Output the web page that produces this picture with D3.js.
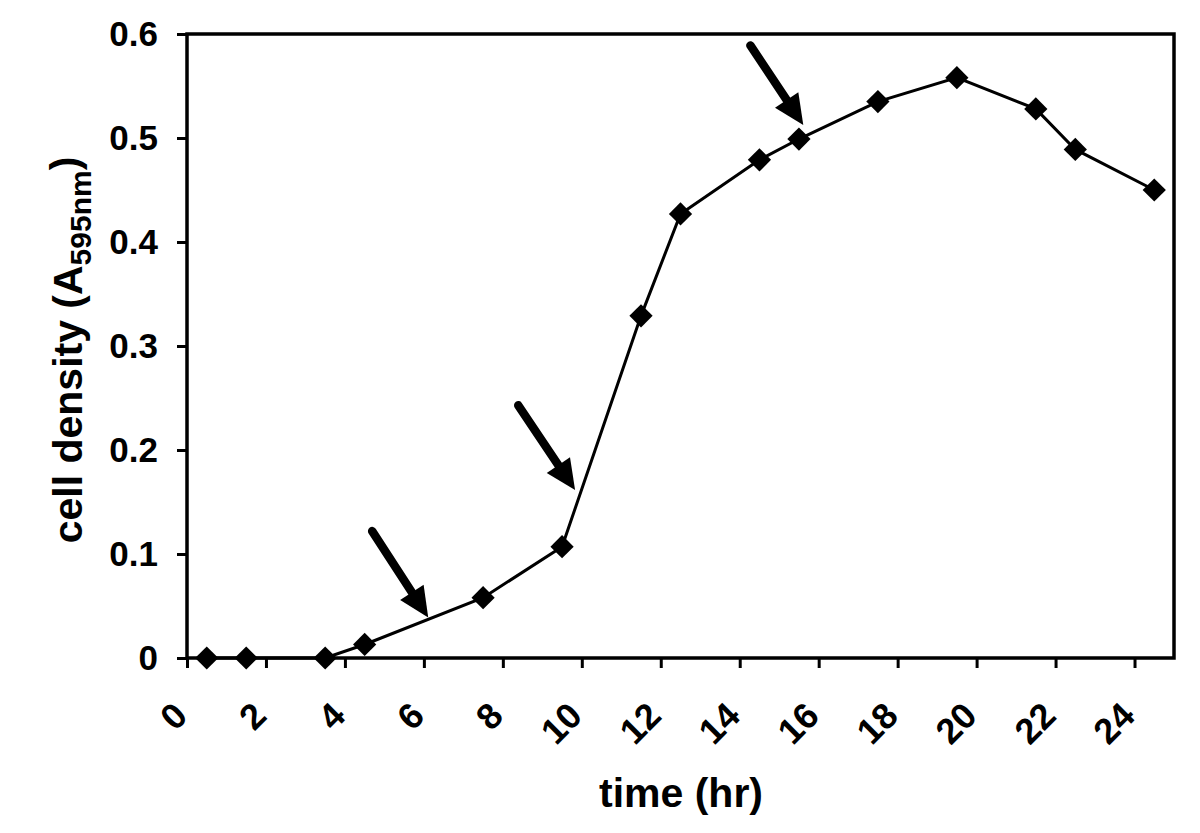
<!DOCTYPE html>
<meta charset="utf-8">
<style>
body { margin: 0; background: #fff; }
text { font-family: "Liberation Sans", Arial, sans-serif; font-weight: bold; }
.axis path, .axis line { stroke: #000; stroke-width: 3; }
.xlab { font-size: 36px; }
.ylab { font-size: 35px; }
</style>
<body>
<script src="https://d3js.org/d3.v7.min.js"></script>
<script>
// growth curve, time in hr vs A595
var hours   = [0.5, 1.5, 3.5, 4.5, 7.5, 9.5, 11.5, 12.5, 14.5, 15.5, 17.5, 19.5, 21.5, 22.5, 24.5];
var density = [0, 0, 0, 0.013, 0.058, 0.107, 0.329, 0.427, 0.479, 0.499, 0.535, 0.558, 0.528, 0.489, 0.45];
var xTicks = [0, 2, 4, 6, 8, 10, 12, 14, 16, 18, 20, 22, 24];
var yTicks = [0, 0.1, 0.2, 0.3, 0.4, 0.5, 0.6];
// arrows (tail -> tip), data units
var arrowTail = [[4.69, 0.122], [8.39, 0.243], [14.27, 0.589]];
var arrowTip  = [[6.11, 0.039], [9.83, 0.1615], [15.61, 0.5125]];

var w = 1200, h = 833;
var svg = d3.select("body").append("svg").attr("width", w).attr("height", h),
    margin = {top: 34, right: 26, bottom: 175, left: 187},
    width = w - margin.left - margin.right,
    height = h - margin.top - margin.bottom;

var x = d3.scaleLinear().domain([0, 25]).range([0, width]),
    y = d3.scaleLinear().domain([0, 0.6]).range([height, 0]);

var g = svg.append("g")
    .attr("transform", "translate(" + margin.left + "," + margin.top + ")");

// frame
g.append("rect")
    .attr("x", 0).attr("y", 0)
    .attr("width", width).attr("height", height)
    .attr("fill", "none").attr("stroke", "#000").attr("stroke-width", 3.5);

var xAxis = g.append("g")
    .attr("class", "axis")
    .attr("transform", "translate(0," + height + ")")
    .call(d3.axisBottom(x).tickValues(xTicks).tickSize(10).tickSizeOuter(0));
xAxis.attr("font-size", 36);
xAxis.selectAll(".tick text")
    .attr("class", "xlab")
    .attr("x", 0).attr("y", 0).attr("dy", "0.35em")
    .attr("text-anchor", "end")
    .attr("transform", "translate(-7,51) rotate(-45)");

var yAxis = g.append("g")
    .attr("class", "axis")
    .call(d3.axisLeft(y).tickValues(yTicks).tickSize(10).tickPadding(19).tickSizeOuter(0)
      .tickFormat(function(d) { return d === 0 ? "0" : d3.format(".1f")(d); }));
yAxis.attr("font-size", 35);
yAxis.selectAll(".tick text").attr("class", "ylab");
xAxis.select(".domain").remove();
yAxis.select(".domain").remove();

var line = d3.line()
    .x(function(d, i) { return x(hours[i]); })
    .y(function(d) { return y(d); });

g.append("path")
    .datum(density)
    .attr("fill", "none")
    .attr("stroke", "#000")
    .attr("stroke-width", 3)
    .attr("d", line);

g.selectAll(".pt")
    .data(density)
  .enter().append("path")
    .attr("class", "pt")
    .attr("d", d3.symbol(d3.symbolSquare, 270))
    .attr("transform", function(d, i) {
      return "translate(" + x(hours[i]) + "," + y(d) + ") rotate(45)";
    })
    .attr("fill", "#000");

// arrows
arrowTail.forEach(function(t, i) {
  var x1 = x(t[0]), y1 = y(t[1]),
      x2 = x(arrowTip[i][0]), y2 = y(arrowTip[i][1]);
  var dx = x2 - x1, dy = y2 - y1, len = Math.sqrt(dx * dx + dy * dy);
  var ux = dx / len, uy = dy / len, headLen = 30, headW = 14;
  var bx = x2 - ux * headLen, by = y2 - uy * headLen;
  g.append("line")
      .attr("x1", x1).attr("y1", y1)
      .attr("x2", bx + ux * 2).attr("y2", by + uy * 2)
      .attr("stroke", "#000").attr("stroke-width", 8.5)
      .attr("stroke-linecap", "round");
  g.append("path")
      .attr("d", "M" + x2 + "," + y2 +
                 "L" + (bx - uy * headW) + "," + (by + ux * headW) +
                 "L" + (bx + uy * headW) + "," + (by - ux * headW) + "Z")
      .attr("fill", "#000");
});

// titles
svg.append("text")
    .attr("x", 681)
    .attr("y", 807)
    .attr("text-anchor", "middle")
    .style("font-size", "41px")
    .text("time (hr)");

var yt = svg.append("text")
    .attr("transform", "translate(82,350) rotate(-90)")
    .attr("text-anchor", "middle")
    .style("font-size", "41px");
yt.append("tspan").text("cell density (A");
yt.append("tspan").attr("dy", "0.3em").style("font-size", "30px").text("595nm");
yt.append("tspan").attr("dy", "-0.3em").text(")");
</script>
</body>
